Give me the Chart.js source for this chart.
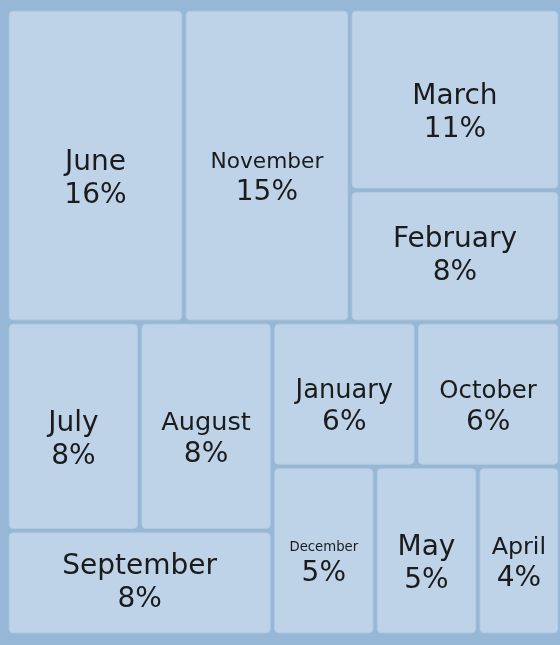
<!DOCTYPE html>
<html>
<head>
<meta charset="utf-8">
<script src="https://cdn.jsdelivr.net/npm/chart.js@4.4.1/dist/chart.umd.min.js"></script>
<style>
  html, body { margin: 0; padding: 0; background: #96b8d6; }
  #wrap { width: 560px; height: 645px; }
</style>
</head>
<body>
<div id="wrap"><canvas id="chart-months"></canvas></div>
<script>
// share of the year, largest first (same order the treemap lays them out)
const months = ['June', 'November', 'March', 'February', 'July', 'August',
  'September', 'January', 'October', 'December', 'May', 'April'];
const shares = [16, 15, 11, 8, 8, 8, 8, 6, 6, 5, 5, 4];

const cellFill = '#bed3e8';
const cellEdge = '#b3cce3';
const textColor = '#1b1b1b';
const fontFamily = '"DejaVu Sans", sans-serif';

// binary split layout (balanced halves), in value units 0..100
function binaryLayout(values, sx, sy) {
  const sums = [0];
  values.forEach(v => sums.push(sums[sums.length - 1] + v));
  const rects = [];
  function part(i, j, value, x0, y0, x1, y1) {
    if (i >= j - 1) { rects[i] = { x0, y0, x1, y1 }; return; }
    const offset = sums[i], target = value / 2 + offset;
    let k = i + 1, hi = j - 1;
    while (k < hi) {
      const mid = (k + hi) >>> 1;
      if (sums[mid] < target) k = mid + 1; else hi = mid;
    }
    if (target - sums[k - 1] < sums[k] - target && i + 1 < k) --k;
    const left = sums[k] - offset, right = value - left;
    if ((x1 - x0) * sx > (y1 - y0) * sy) {
      const xk = (x0 * right + x1 * left) / value;
      part(i, k, left, x0, y0, xk, y1);
      part(k, j, right, xk, y0, x1, y1);
    } else {
      const yk = (y0 * right + y1 * left) / value;
      part(i, k, left, x0, y0, x1, yk);
      part(k, j, right, x0, yk, x1, y1);
    }
  }
  part(0, values.length, sums[values.length], 0, 0, 100, 100);
  return rects;
}

const treemapPlugin = {
  id: 'treemapCells',
  afterDraw(chart) {
    const { ctx, chartArea, scales } = chart;
    const xs = scales.x, ys = scales.y;
    const rects = binaryLayout(shares, chartArea.width / 100, chartArea.height / 100);
    const total = shares.reduce((a, b) => a + b, 0);
    const inset = 2.25;

    ctx.save();
    rects.forEach((r, i) => {
      const x0 = xs.getPixelForValue(r.x0) + inset;
      const x1 = xs.getPixelForValue(r.x1) - inset;
      const y0 = ys.getPixelForValue(r.y0) + inset;
      const y1 = ys.getPixelForValue(r.y1) - inset;
      const w = x1 - x0, h = y1 - y0;

      ctx.beginPath();
      ctx.roundRect(x0, y0, w, h, 4);
      ctx.fillStyle = cellFill;
      ctx.fill();
      ctx.lineWidth = 1;
      ctx.strokeStyle = cellEdge;
      ctx.stroke();

      const name = months[i];
      const pct = Math.round(shares[i] / total * 100) + '%';
      ctx.font = '28px ' + fontFamily;
      const w28 = ctx.measureText(name).width;
      const nameSize = Math.min(28, 28 * 0.7 * w / w28, (h - 10) / 2.2);
      const pctSize = Math.min(28, (h - 10) / 2.6);
      const gap = nameSize / 2 + pctSize / 2 + 5;
      const cx = (x0 + x1) / 2, cy = (y0 + y1) / 2;
      let nameY, pctY;
      if (h > 130) { nameY = cy - 3; pctY = nameY + gap; }
      else { nameY = cy - gap / 2; pctY = cy + gap / 2; }

      ctx.fillStyle = textColor;
      ctx.textAlign = 'center';
      ctx.textBaseline = 'middle';
      ctx.font = nameSize + 'px ' + fontFamily;
      ctx.fillText(name, cx, nameY);
      ctx.font = pctSize + 'px ' + fontFamily;
      ctx.fillText(pct, cx, pctY);
    });
    ctx.restore();
  }
};

new Chart(document.getElementById('chart-months'), {
  type: 'scatter',
  data: { datasets: [{ label: 'Share', data: [] }] },
  options: {
    responsive: true,
    maintainAspectRatio: false,
    animation: false,
    layout: { padding: { left: 7, right: 0, top: 9, bottom: 10 } },
    scales: {
      x: { type: 'linear', min: 0, max: 100, display: false },
      y: { type: 'linear', min: 0, max: 100, reverse: true, display: false }
    },
    plugins: { legend: { display: false }, tooltip: { enabled: false } }
  },
  plugins: [treemapPlugin]
});
</script>
</body>
</html>
